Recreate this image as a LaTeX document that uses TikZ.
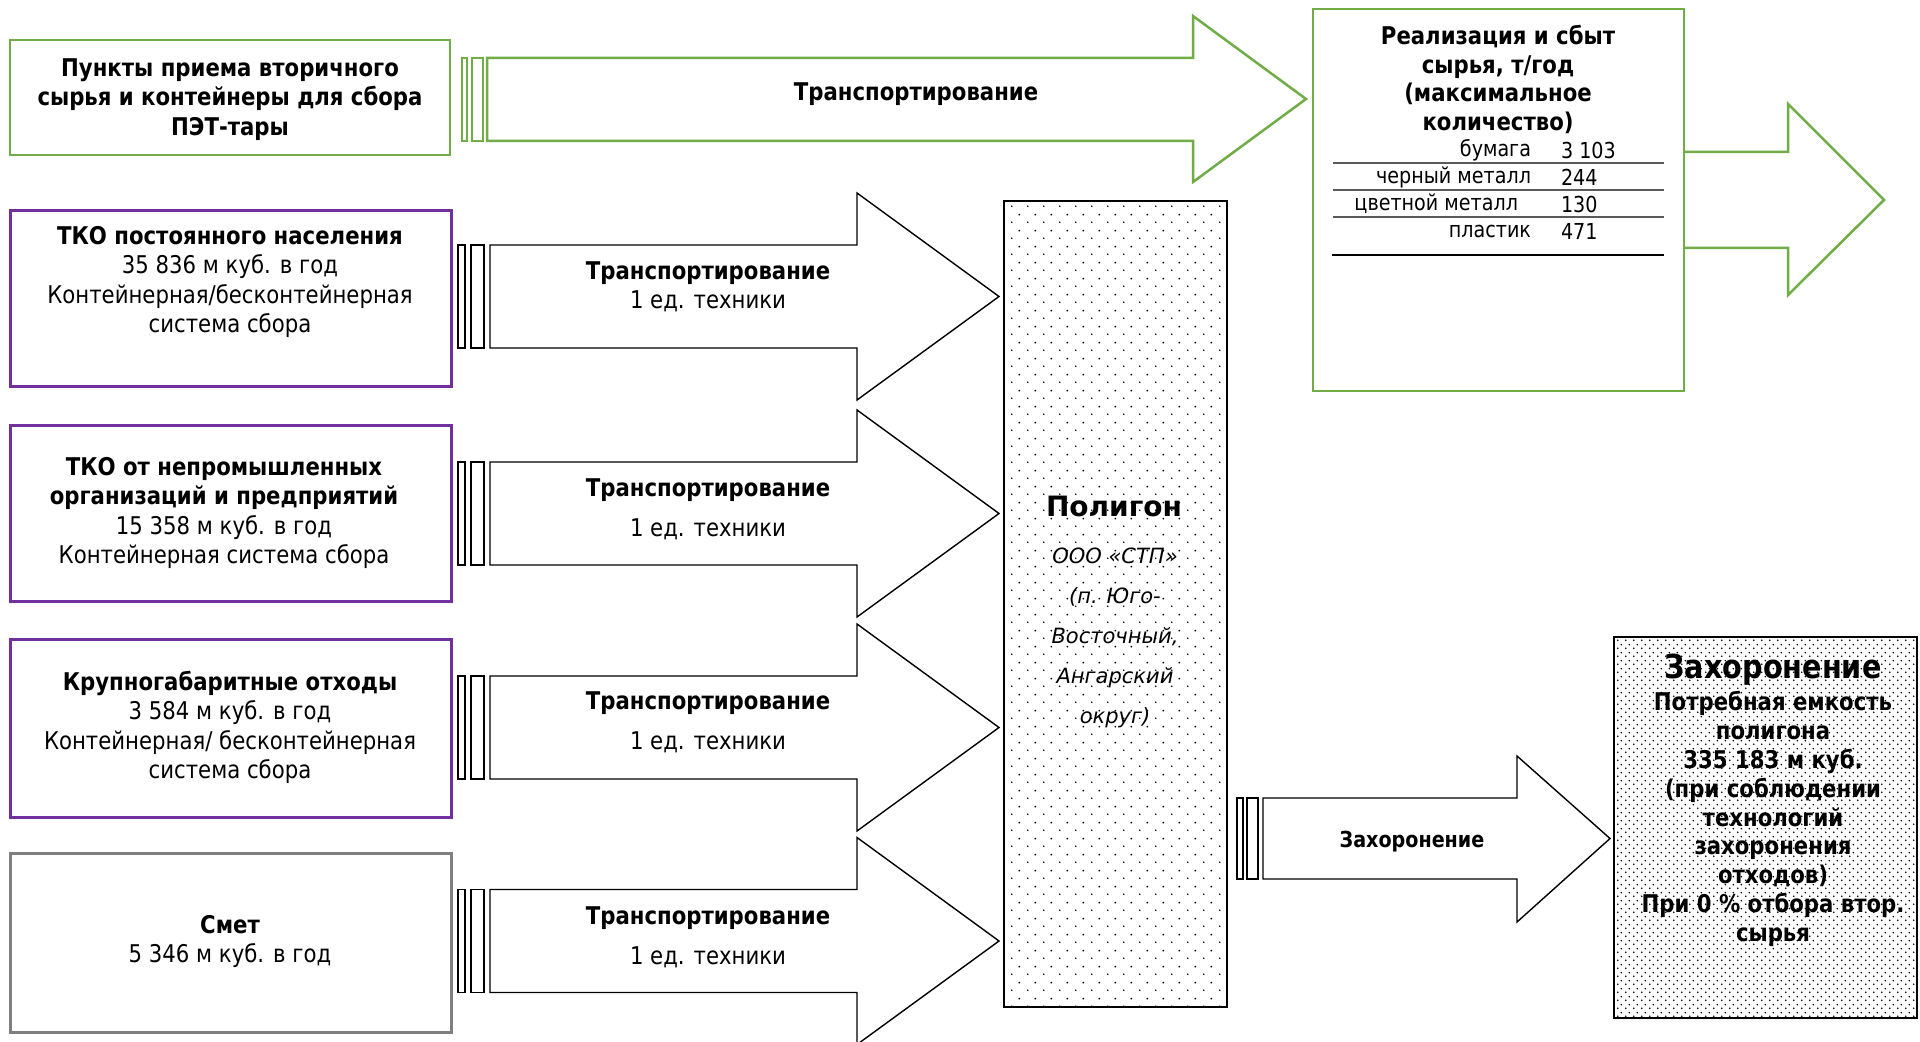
\documentclass[tikz,border=0pt]{standalone}
\usepackage{fontspec}
\setmainfont{DejaVu Sans}[FakeStretch=0.87]
\newfontfamily\widefont{DejaVu Sans}
\usetikzlibrary{fit,patterns}
\definecolor{ggreen}{RGB}{112,173,71}
\definecolor{gpurple}{RGB}{112,48,160}
\definecolor{ggray}{RGB}{127,127,127}
\definecolor{rulegray}{RGB}{90,90,90}
\pgfdeclarepatternformonly{polydots}{\pgfqpoint{0pt}{0pt}}{\pgfqpoint{8pt}{8pt}}{\pgfqpoint{8pt}{8pt}}{%
  \pgfpathcircle{\pgfqpoint{2pt}{2pt}}{0.5pt}%
  \pgfpathcircle{\pgfqpoint{6pt}{6pt}}{0.5pt}%
  \pgfusepath{fill}}
\pgfdeclarepatternformonly{densedots}{\pgfqpoint{0pt}{0pt}}{\pgfqpoint{4pt}{4pt}}{\pgfqpoint{4pt}{4pt}}{%
  \pgfpathcircle{\pgfqpoint{1pt}{1pt}}{0.48pt}%
  \pgfpathcircle{\pgfqpoint{3pt}{3pt}}{0.48pt}%
  \pgfusepath{fill}}
\newcommand\myblackarrow[1]{%
  \draw[blackarrow] (458,{#1-51.5}) rectangle (465,{#1+51.5});
  \draw[blackarrow] (471,{#1-51.5}) rectangle (484,{#1+51.5});
  \draw[blackarrow] (490,{#1-51.5}) -- (857,{#1-51.5}) -- (857,{#1-103.5}) -- (999,#1)
     -- (857,{#1+103.5}) -- (857,{#1+51.5}) -- (490,{#1+51.5}) -- cycle;}
\begin{document}
\begin{tikzpicture}[x=0.5pt,y=-0.5pt,
  every node/.style={inner sep=0pt, outer sep=0pt},
  txt/.style={align=center, font=\fontsize{12.2}{14.7}\selectfont},
  tabtxt/.style={font=\fontsize{11}{13}\selectfont},
  greenbox/.style={draw=ggreen, line width=1.25pt},
  purplebox/.style={draw=gpurple, line width=1.5pt},
  graybox/.style={draw=ggray, line width=1.5pt},
  blackarrow/.style={draw=black, fill=white, line width=0.7pt, line join=miter},
  greenarrow/.style={draw=ggreen, line width=1.25pt, line join=miter},
  tabrule/.style={draw=rulegray, line width=0.6pt},
]
\useasboundingbox[fill=white] (0,0) rectangle (1920,1042);

% ---------- left boxes ----------
\coordinate (pet-a) at (10,40);   \coordinate (pet-b) at (450,155);
\node[greenbox, fit=(pet-a)(pet-b)] (pet) {};
\node[txt, font=\fontsize{12.2}{14.7}\selectfont\bfseries] (pet-t) at (230,99.5)
  {Пункты приема вторичного\\сырья и контейнеры для сбора\\ПЭТ-тары};

\coordinate (b1-a) at (10,211);  \coordinate (b1-b) at (451,387);
\node[purplebox, fit=(b1-a)(b1-b)] (b1) {};
\node[txt] (b1-t) at (230,282)
  {\textbf{ТКО постоянного населения}\\35 836 м куб. в год\\Контейнерная/бесконтейнерная\\система сбора};

\coordinate (b2-a) at (10,426);  \coordinate (b2-b) at (451,601);
\node[purplebox, fit=(b2-a)(b2-b)] (b2) {};
\node[txt] (b2-t) at (224,513)
  {\textbf{ТКО от непромышленных}\\\textbf{организаций и предприятий}\\15 358 м куб. в год\\Контейнерная система сбора};

\coordinate (b3-a) at (10,639);  \coordinate (b3-b) at (451,817);
\node[purplebox, fit=(b3-a)(b3-b)] (b3) {};
\node[txt] (b3-t) at (230,727.5)
  {\textbf{Крупногабаритные отходы}\\3 584 м куб. в год\\Контейнерная/ бесконтейнерная\\система сбора};

\coordinate (b4-a) at (10,853);  \coordinate (b4-b) at (451,1032);
\node[graybox, fit=(b4-a)(b4-b)] (b4) {};
\node[txt] (b4-t) at (230,941.5) {\textbf{Смет}\\5 346 м куб. в год};

% ---------- top green arrow ----------
\draw[greenarrow] (462,58) rectangle (467,141);
\draw[greenarrow] (472,58) rectangle (483,141);
\draw[greenarrow] (487,58) -- (1193,58) -- (1193,16) -- (1306,99) -- (1193,182) -- (1193,141) -- (487,141) -- cycle;
\node[txt, font=\fontsize{12.2}{14.7}\selectfont\bfseries] (ga-t) at (916,94) {Транспортирование};

% ---------- realization box ----------
\coordinate (real-a) at (1313,9);  \coordinate (real-b) at (1684,391);
\node[greenbox, fit=(real-a)(real-b)] (real) {};
\node[txt, font=\fontsize{12.2}{14.2}\selectfont\bfseries] (real-t) at (1498,79.5)
  {Реализация и сбыт\\сырья, т/год\\(максимальное\\количество)};
\node[tabtxt, anchor=east] (r1l) at (1531,150) {бумага};
\node[tabtxt, anchor=west] (r1v) at (1561,150) {3 103};
\node[tabtxt, anchor=east] (r2l) at (1531,177) {черный металл};
\node[tabtxt, anchor=west] (r2v) at (1561,177) {244};
\node[tabtxt, anchor=east] (r3l) at (1518,204) {цветной металл};
\node[tabtxt, anchor=west] (r3v) at (1561,204) {130};
\node[tabtxt, anchor=east] (r4l) at (1531,231) {пластик};
\node[tabtxt, anchor=west] (r4v) at (1561,231) {471};
\draw[tabrule] (1333,163) -- (1664,163);
\draw[tabrule] (1333,190) -- (1664,190);
\draw[tabrule] (1333,217) -- (1664,217);
\draw[draw=black, line width=0.6pt] (1332,255) -- (1664,255);

% right green arrow out of the realization box
\draw[greenarrow] (real.east |- 0,152) -- (1788,152) -- (1788,104) -- (1884,200) -- (1788,295) -- (1788,248) -- (real.east |- 0,248);

% ---------- black transport arrows ----------
\myblackarrow{296.5}
\myblackarrow{513.5}
\myblackarrow{727.5}
\myblackarrow{941}
\node[txt] (a1-t) at (708,286.5) {\textbf{Транспортирование}\\1 ед. техники};
\node[txt] (a2-t) at (708,509) {\textbf{Транспортирование}\\[5.5pt]1 ед. техники};
\node[txt] (a3-t) at (708,722.5) {\textbf{Транспортирование}\\[5.5pt]1 ед. техники};
\node[txt] (a4-t) at (708,937.5) {\textbf{Транспортирование}\\[5.5pt]1 ед. техники};

% ---------- polygon ----------
\coordinate (pol-a) at (1004,201);  \coordinate (pol-b) at (1227,1007);
\node[fit=(pol-a)(pol-b), pattern=polydots, draw=black, line width=0.8pt] (pol) {};
\node[font=\widefont\fontsize{14}{16}\selectfont\bfseries] (pol-t) at (1114,506) {Полигон};
\node[align=center, font=\widefont\fontsize{10.5}{20}\selectfont\itshape] (pol-s) at (1115,637.5)
  {ООО «СТП»\\(п. Юго-\\Восточный,\\Ангарский\\округ)};

% ---------- burial arrow ----------
\draw[blackarrow] (1237,798) rectangle (1243,879);
\draw[blackarrow] (1247,798) rectangle (1258,879);
\draw[blackarrow] (1263,798) -- (1517,798) -- (1517,756) -- (1610,838.5) -- (1517,922) -- (1517,879) -- (1263,879) -- cycle;
\node[font=\fontsize{11}{13}\selectfont\bfseries] (za-t) at (1412,842) {Захоронение};

% ---------- burial box ----------
\coordinate (zb-a) at (1614,637);  \coordinate (zb-b) at (1917,1018);
\node[fit=(zb-a)(zb-b), pattern=densedots, draw=black, line width=0.8pt] (zb) {};
\node[font=\fontsize{16.5}{18}\selectfont\bfseries] (zb-t) at (1773,670) {Захоронение};
\node[align=center, font=\fontsize{12.2}{14.4}\selectfont\bfseries] (zb-s) at (1773,819)
  {Потребная емкость\\полигона\\335 183 м куб.\\(при соблюдении\\технологий\\захоронения\\отходов)\\При 0 \% отбора втор.\\сырья};
\end{tikzpicture}
\end{document}
